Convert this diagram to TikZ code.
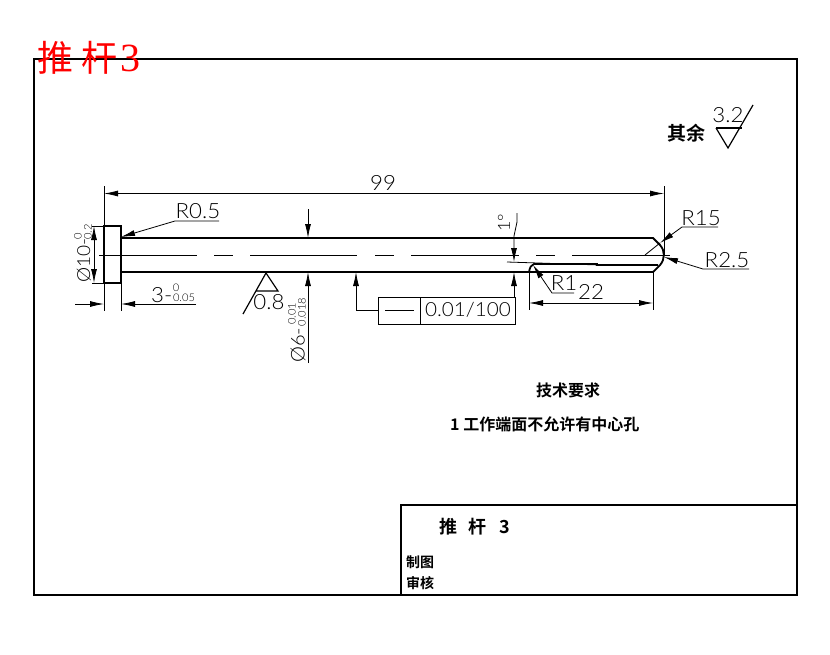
\documentclass[tikz,border=0pt]{standalone}
\usepackage{fontspec}
\setmainfont{Liberation Sans}
\newfontfamily\dimfont[FakeStretch=1.06]{Lato Light}
\newfontfamily\cjk{Noto Sans CJK SC}
\newfontfamily\cjkb{Noto Sans CJK SC Bold}
\newfontfamily\redfont{Liberation Serif}
\usetikzlibrary{arrows.meta}
\tikzset{
  thick line/.style={line width=1.8pt},
  thin line/.style={line width=.8pt},
  dimarrow/.style={thin line, -{Latex[length=14pt,width=6pt]}},
  dimlabel/.style={inner sep=0pt, font=\dimfont\fontsize{21}{21}\selectfont},
  tollabel/.style={inner sep=0pt, font=\dimfont\fontsize{10.5}{10.5}\selectfont},
  cjklabel/.style={inner sep=0pt, font=\cjkb\fontsize{14}{14}\selectfont},
  notelabel/.style={inner sep=0pt, font=\cjkb\fontsize{16}{16}\selectfont}
}
\begin{document}
\begin{tikzpicture}[x=1pt, y=-1pt]
\useasboundingbox (0,0) rectangle (830,654);
% frame and title block
\draw[thick line] (34,59) rectangle (797,595);
\draw[thick line] (401,595) -- (401,505) -- (797,505);
\node[inner sep=0pt, text=red, anchor=west, font=\cjk\fontsize{36}{36}\selectfont] (title) at (37,58)
  {推\hspace{8pt}杆\hspace{3pt}{\redfont\fontsize{40}{40}\selectfont 3}};
\node[cjklabel, anchor=west, font=\cjkb\fontsize{18}{18}\selectfont] (blockname) at (439,527) {推\hspace{11pt}杆\hspace{13pt}3};
\node[cjklabel, anchor=west] (drawn) at (406,562) {制图};
\node[cjklabel, anchor=west] (checked) at (406,583) {审核};
% pin
\draw[thick line] (104,226) rectangle (121,283);
\draw[thick line] (121,238) -- (653,238) -- (660,245) arc[start angle=-42, end angle=42, radius=15] -- (653,272) -- (121,272);
\draw[thick line] (529,272) .. controls (530,267) and (531,265) .. (534,264) -- (597,264) -- (597,265) -- (658,265);
\draw[thin line] (507,262) -- (600,265);
\draw[thin line] (99,255) -- (197,255) (214,255) -- (233,255) (250,255) -- (357,255)
  (375,255) -- (394,255) (411,255) -- (519,255) (536,255) -- (555,255) (572,255) -- (670,255);
% overall length
\draw[thin line] (104,186) -- (104,226) (664,186) -- (664,255);
\draw[dimarrow] (383,193.5) -- (104,193.5);
\draw[dimarrow] (383,193.5) -- (664,193.5);
\node[dimlabel] (len) at (383,183) {99};
% head
\draw[thin line] (92,226) -- (104,226) (92,283) -- (104,283);
\draw[thin line] (104,283) -- (104,311) (121,283) -- (121,311);
\draw[dimarrow] (94,255) -- (94,226);
\draw[dimarrow] (94,255) -- (94,283);
\node[dimlabel, rotate=90, anchor=west, font=\dimfont\fontsize{18}{18}\selectfont] (headdia) at (84,283) {Ø10-};
\node[tollabel, rotate=90] (headup) at (78,236) {0};
\node[tollabel, rotate=90] (headlow) at (88,232) {0.2};
\draw[dimarrow] (75,304) -- (104,304);
\draw[dimarrow] (196,304) -- (121,304);
\node[dimlabel, anchor=west] (headlen) at (151,295) {3-};
\node[tollabel] (lenup) at (176,288) {0};
\node[tollabel] (lenlow) at (184,298) {0.05};
\draw[dimarrow] (219,221) -- (175,221) -- (121,237);
\node[dimlabel] (rhead) at (198,211) {R0.5};
% roughness
\draw[thin line, line width=1.2pt] (243,314) -- (266,273) -- (278,291) -- (256,291);
\node[dimlabel] (rough) at (269,302) {0.8};
\draw[thin line, line width=1.2pt] (716,128) -- (728,148) -- (753,105);
\draw[thick line] (716,128) -- (742,128);
\node[dimlabel] (roughrest) at (728,115) {3.2};
\node[cjklabel, font=\cjkb\fontsize{19}{19}\selectfont] (rest) at (686,133) {其余};
% shaft diameter
\draw[dimarrow] (308,209) -- (308,238);
\draw[dimarrow] (308,363) -- (308,272);
\node[dimlabel, rotate=90, anchor=west, font=\dimfont\fontsize{19}{19}\selectfont] (shaftdia) at (298,363) {Ø6-};
\node[tollabel, rotate=90] (shaftup) at (292,314) {0.01};
\node[tollabel, rotate=90] (shaftlow) at (302,312) {0.018};
% straightness
\draw[thin line] (378,297) rectangle (515,324);
\draw[thin line] (420,297) -- (420,324);
\draw[thin line] (385,310) -- (414,310);
\node[dimlabel, font=\dimfont\fontsize{19.5}{19.5}\selectfont] (straight) at (468,310) {0.01/100};
\draw[dimarrow] (378,310) -- (356,310) -- (356,272);
\draw[dimarrow] (514,297) -- (514,272);
% taper
\draw[dimarrow] (517,213) -- (517,222) -- (514,236) -- (514,262);
\node[dimlabel, rotate=90, font=\dimfont\fontsize{17}{17}\selectfont] (taper) at (504,223) {1°};
% tip radii
\draw[thin line] (645,255) -- (660,243);
\draw[dimarrow] (718,227) -- (682,227) -- (660,243);
\node[dimlabel] (rbig) at (701,218) {R15};
\draw[dimarrow] (749,269) -- (703,269) -- (664,257);
\node[dimlabel] (rtip) at (727,260) {R2.5};
\draw[dimarrow] (574,293) -- (552,293) -- (533,265);
\node[dimlabel] (rsmall) at (564,283) {R1};
% tip length
\draw[thin line] (529,272) -- (529,310) (653,272) -- (653,310);
\draw[dimarrow] (591,303) -- (529,303);
\draw[dimarrow] (591,303) -- (653,303);
\node[dimlabel] (tiplen) at (591,292) {22};
% notes
\node[notelabel] (reqhead) at (568,390) {技术要求};
\node[notelabel, anchor=west] (req) at (450,424) {1 工作端面不允许有中心孔};
\end{tikzpicture}
\end{document}
